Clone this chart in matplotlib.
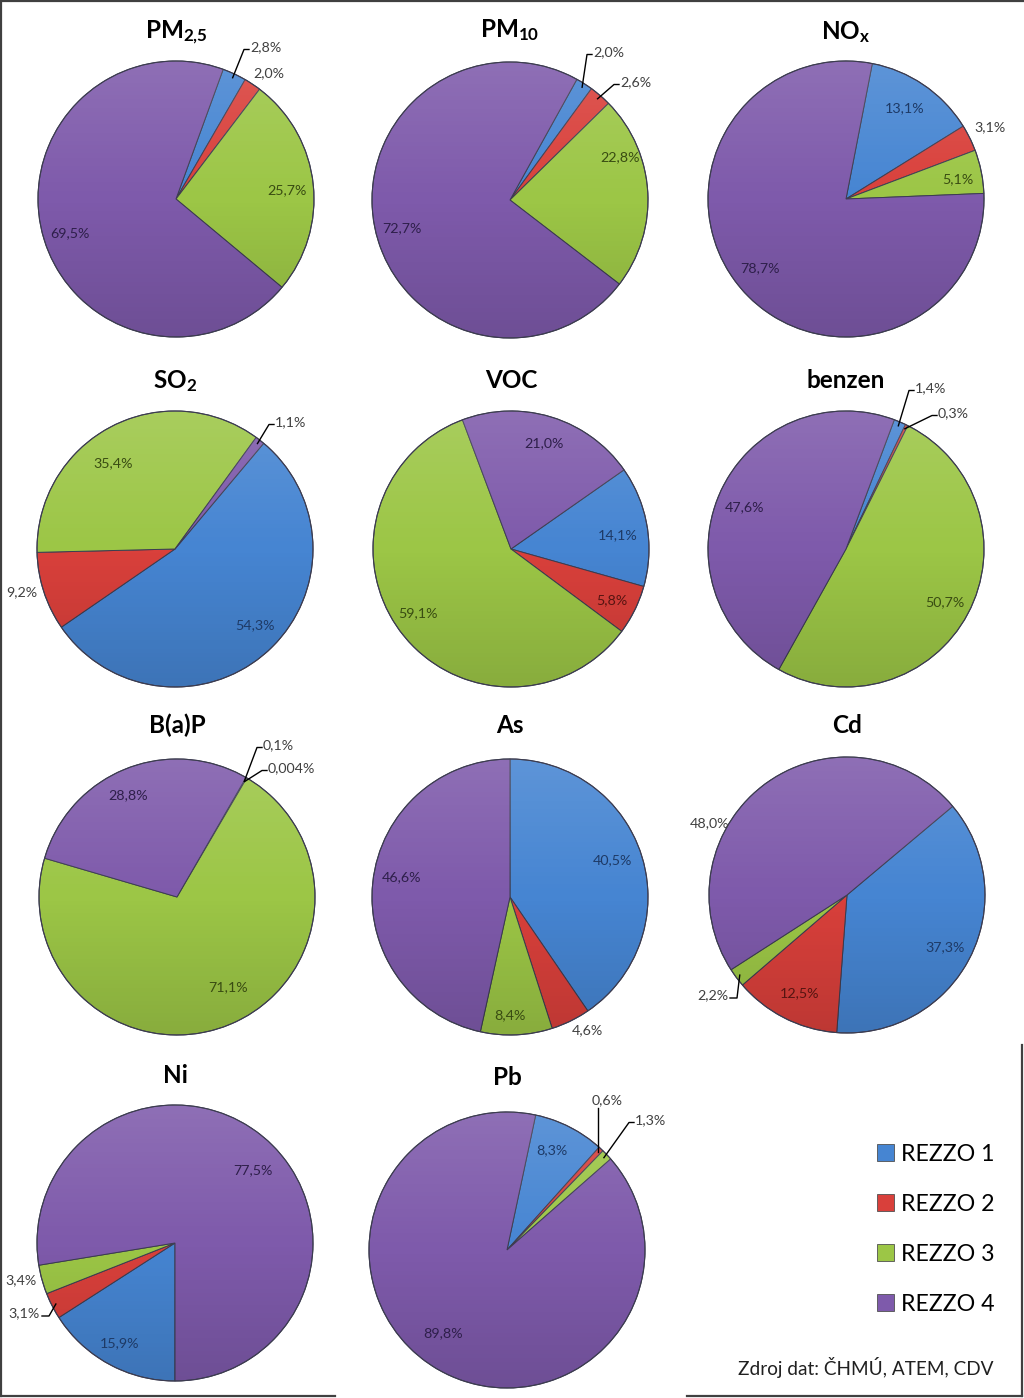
import matplotlib
matplotlib.use("Agg")
import matplotlib.pyplot as plt
import numpy as np
from matplotlib.patches import Patch, Circle
from matplotlib.lines import Line2D

plt.rcParams['font.family'] = ['Lato', 'DejaVu Sans']
plt.rcParams['mathtext.fontset'] = 'custom'
plt.rcParams['mathtext.rm'] = 'Lato:bold'
plt.rcParams['mathtext.bf'] = 'Lato:bold'
plt.rcParams['mathtext.it'] = 'Lato:bold'

# ---------------- data ----------------
titles = [r'$\mathrm{PM}_{\mathrm{2{,}5}}$', r'$\mathrm{PM}_{\mathrm{10}}$', r'$\mathrm{NO}_{\mathrm{x}}$',
          r'$\mathrm{SO}_{\mathrm{2}}$', 'VOC', 'benzen', 'B(a)P', 'As', 'Cd', 'Ni', 'Pb']
series = ['REZZO 1', 'REZZO 2', 'REZZO 3', 'REZZO 4']
rezzo1 = [2.8, 2.0, 13.1, 54.3, 14.1, 1.4, 0.1, 40.5, 37.3, 15.9, 8.3]
rezzo2 = [2.0, 2.6, 3.1, 9.2, 5.8, 0.3, 0.004, 4.6, 12.5, 3.1, 0.6]
rezzo3 = [25.7, 22.8, 5.1, 35.4, 59.1, 50.7, 71.1, 8.4, 2.2, 3.4, 1.3]
rezzo4 = [69.5, 72.7, 78.7, 1.1, 21.0, 47.6, 28.8, 46.6, 48.0, 77.5, 89.8]
source_text = 'Zdroj dat: ČHMÚ, ATEM, CDV'

# ---------------- style / layout ----------------
W, H = 1024, 1398
colors = ['#4685D2', '#D9403B', '#9CC646', '#7E5AAB']
inner_text = ['#1E3A66', '#561411', '#394C12', '#2E1F4A']
outer_text = '#404040'
R = 138.0          # pie radius in px
LIM = 1.4

# pie centres (px), title baseline (px), first slice angle (deg, clockwise from 12 o'clock)
centres = [(176, 199), (510, 200), (846, 199),
           (175, 549), (511, 549), (846, 549),
           (177, 897), (510, 897), (847, 895),
           (175, 1243), (507, 1250)]
title_y = [39, 37, 39, 388, 388, 388, 733, 733, 733, 1083, 1085]
first_angle = [20, 29, 11, 40, 55, 20.5, 30, 0, 50, 180, 12]

# label offsets from centre in px (dx, dy down); mode: 'c' centred, 'l' leader+text to the right,
# 'r' leader+text to the left, 'v' vertical leader under centred text
label_pos = [
    [((74, -152), 'l'), ((93, -126), 'c'), ((111, -9), 'c'), ((-106, 34), 'c')],
    [((83, -148), 'l'), ((110, -118), 'l'), ((110, -43), 'c'), ((-108, 28), 'c')],
    [((59, -91), 'c'), ((144, -72), 'c'), ((112, -20), 'c'), ((-86, 69), 'c')],
    [((80, 76), 'c'), ((-153, 43), 'c'), ((-62, -86), 'c'), ((100, -127), 'l')],
    [((107, -14), 'c'), ((101, 51), 'c'), ((-93, 64), 'c'), ((33, -106), 'c')],
    [((69, -161), 'l'), ((92, -136), 'l'), ((99, 53), 'c'), ((-101, -42), 'c')],
    [((86, -152), 'l'), ((91, -129), 'l'), ((51, 90), 'c'), ((-49, -102), 'c')],
    [((102, -37), 'c'), ((77, 133), 'c'), ((0, 118), 'c'), ((-108, -20), 'c')],
    [((98, 52), 'c'), ((-47, 98), 'c'), ((-119, 100), 'r'), ((-137, -72), 'c')],
    [((-55, 100), 'c'), ((-135, 70), 'r'), ((-154, 37), 'c'), ((78, -73), 'c')],
    [((45, -100), 'c'), ((100, -150), 'v'), ((128, -130), 'l'), ((-64, 83), 'c')],
]


def fmt(v):
    s = f"{v:.3f}" if v < 0.05 else f"{v:.1f}"
    return s.replace('.', ',') + '%'


fig = plt.figure(figsize=(W / 100, H / 100), dpi=100)
fig.patch.set_facecolor('white')

# gradient overlay for a slight 3-D look
grad = np.zeros((256, 1, 4))
t = np.linspace(0, 1, 256)[:, None]
grad[..., :3] = np.where(t[..., None] < 0.5, 1.0, 0.0)
grad[..., 3] = np.abs(t - 0.5) * 0.26

px = 1.0 / R
LFS = 10.3
for i in range(len(titles)):
    cx, cy = centres[i]
    S = 2 * LIM * R
    ax = fig.add_axes([(cx - S / 2) / W, 1 - (cy + S / 2) / H, S / W, S / H])
    ax.set_xlim(-LIM, LIM)
    ax.set_ylim(-LIM, LIM)
    ax.set_aspect('equal')
    ax.axis('off')
    vals = [rezzo1[i], rezzo2[i], rezzo3[i], rezzo4[i]]
    wedges, _ = ax.pie(vals, colors=colors, startangle=90 - first_angle[i], counterclock=False,
                       radius=1.0, center=(0, 0), frame=False,
                       wedgeprops=dict(edgecolor='#3c3c50', linewidth=0.7))
    ax.set_xlim(-LIM, LIM)
    ax.set_ylim(-LIM, LIM)
    circ = Circle((0, 0), 1.0, transform=ax.transData)
    im = ax.imshow(grad, extent=(-1, 1, -1, 1), aspect='auto', zorder=3, interpolation='bilinear')
    im.set_clip_path(circ)
    ax.add_patch(Circle((0, 0), 1.0, fill=False, edgecolor='#3c3c50', linewidth=0.8, zorder=4))

    # title
    ax.text(0, -(title_y[i] - cy) * px, titles[i], ha='center', va='baseline',
            fontsize=17.5, fontweight='bold', color='black', zorder=6)

    # labels
    for k, w in enumerate(wedges):
        (dx, dy), mode = label_pos[i][k]
        x, y = dx * px, -dy * px
        dist = np.hypot(dx, dy)
        col = inner_text[k] if (dist < 0.95 * R and mode == 'c') else outer_text
        txt = fmt(vals[k])
        mid = np.deg2rad((w.theta1 + w.theta2) / 2)
        ex, ey = 0.97 * np.cos(mid), 0.97 * np.sin(mid)
        if mode == 'c':
            ax.text(x, y, txt, ha='center', va='center', fontsize=LFS, color=col, zorder=6)
        elif mode == 'l':
            ax.text(x, y, txt, ha='left', va='center', fontsize=LFS, color=col, zorder=6)
            ax.add_line(Line2D([ex, x - 6 * px, x - 1 * px], [ey, y - 2.5 * px, y - 2.5 * px],
                               color='black', linewidth=1.0, zorder=5))
        elif mode == 'r':
            ax.text(x, y, txt, ha='right', va='center', fontsize=LFS, color=col, zorder=6)
            ax.add_line(Line2D([ex, x + 9 * px, x + 2 * px], [ey, y - 3 * px, y - 3 * px],
                               color='black', linewidth=1.0, zorder=5))
        else:
            ax.text(x, y, txt, ha='center', va='center', fontsize=LFS, color=col, zorder=6)
            ax.add_line(Line2D([ex, ex], [ey, y - 8 * px],
                               color='black', linewidth=1.0, zorder=5))

# overlay for frame, legend and source
ov = fig.add_axes([0, 0, 1, 1], zorder=10)
ov.set_xlim(0, W)
ov.set_ylim(H, 0)
ov.axis('off')
ov.patch.set_alpha(0)
fc = '#404040'
ov.plot([0, W], [1, 1], color=fc, lw=1.6)
ov.plot([1, 1], [0, 1396], color=fc, lw=1.6)
ov.plot([0, 335], [1396, 1396], color=fc, lw=1.6)
ov.plot([687, 1022], [1396, 1396], color=fc, lw=1.6)
ov.plot([1022, 1022], [1045, 1396], color=fc, lw=1.6)

handles = [Patch(facecolor=c, edgecolor='#505050', linewidth=0.6) for c in colors]
ov.legend(handles, series, loc='upper left', bbox_to_anchor=(877 / W, 1 - 1144 / H),
          bbox_transform=fig.transFigure, frameon=False, fontsize=16.7,
          handlelength=0.74, handleheight=0.74, handletextpad=0.3, labelspacing=1.25,
          borderpad=0, borderaxespad=0)
ov.text(993, 1375, source_text, ha='right', va='baseline', fontsize=13.7, color='#202020')

fig.savefig('out.png', dpi=100, facecolor='white')
